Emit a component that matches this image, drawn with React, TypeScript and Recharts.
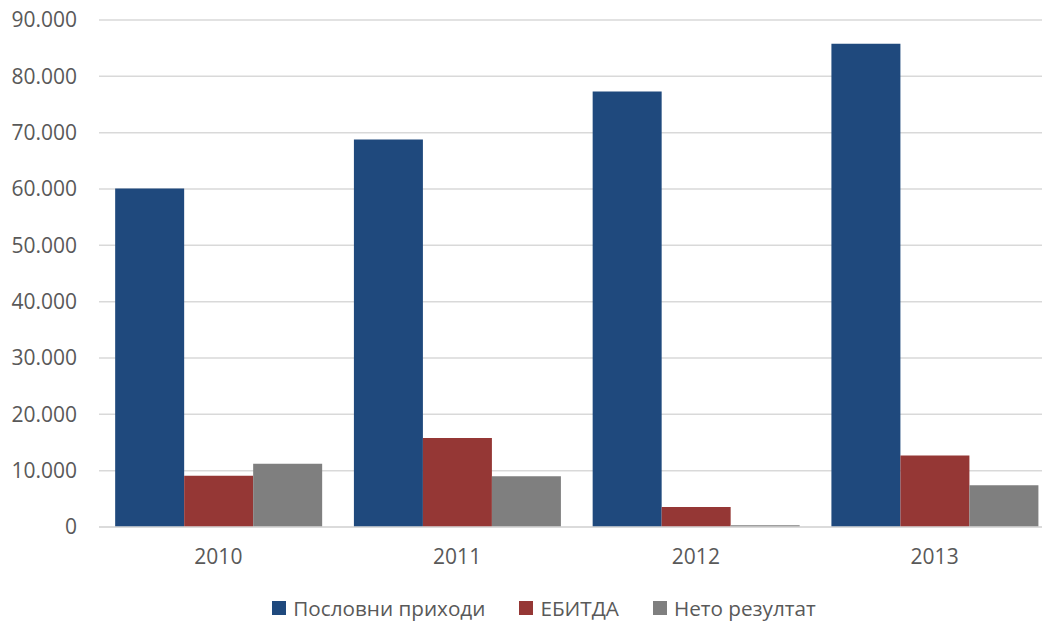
import React from 'react'
import { BarChart, Bar, XAxis, YAxis, CartesianGrid, Legend } from 'recharts'

const years = ['2010', '2011', '2012', '2013']
const prihodi = [60100, 68800, 77300, 85800]
const ebitda = [9100, 15800, 3550, 12700]
const neto = [11250, 9000, 300, 7400]
const yTicks = [0, 10000, 20000, 30000, 40000, 50000, 60000, 70000, 80000, 90000]

const SERIES = [
  { key: 'prihodi', name: 'Пословни приходи', color: '#1F497D' },
  { key: 'ebitda', name: 'ЕБИТДА', color: '#953735' },
  { key: 'neto', name: 'Нето резултат', color: '#7F7F7F' },
]

const data = years.map((year, i) => ({
  year,
  prihodi: prihodi[i],
  ebitda: ebitda[i],
  neto: neto[i],
}))

const FONT = '"Open Sans", "Noto Sans", sans-serif'
const TEXT = '#595959'

const fmt = (v: number) => v.toString().replace(/\B(?=(\d{3})+(?!\d))/g, '.')

// plot area runs a bit past the right edge of the picture, like the original
function LegendRow() {
  return (
    <div
      style={{
        display: 'flex',
        justifyContent: 'center',
        gap: 34,
        paddingLeft: 34,
        paddingTop: 9,
        fontFamily: FONT,
        fontSize: 20.7,
        color: TEXT,
      }}
    >
      {SERIES.map((s) => (
        <div key={s.key} style={{ display: 'flex', alignItems: 'center' }}>
          <span style={{ width: 14, height: 14, background: s.color, marginRight: 7, display: 'inline-block' }} />
          <span>{s.name}</span>
        </div>
      ))}
    </div>
  )
}

export default function App() {
  return (
    <div style={{ position: 'fixed', left: 0, top: 0, width: 1042, height: 621, overflow: 'hidden', background: '#fff' }}>
      <BarChart
        width={1056}
        height={621}
        data={data}
        margin={{ top: 20, right: 2, bottom: 0, left: 0 }}
        barCategoryGap="6.77%"
        barGap={0}
      >
        <CartesianGrid vertical={false} stroke="#D9D9D9" strokeWidth={1.5} />
        <XAxis
          dataKey="year"
          axisLine={{ stroke: '#D9D9D9', strokeWidth: 1.5 }}
          tickLine={false}
          tickSize={0}
          tickMargin={22}
          height={58}
          tick={{ fill: TEXT, fontSize: 21, fontFamily: FONT }}
        />
        <YAxis
          domain={[0, 90000]}
          ticks={yTicks}
          width={99}
          axisLine={false}
          tickLine={false}
          tickSize={0}
          tickMargin={22}
          tickFormatter={fmt}
          tick={{ fill: TEXT, fontSize: 21, fontFamily: FONT }}
        />
        <Legend verticalAlign="bottom" height={36} content={() => <LegendRow />} />
        {SERIES.map((s) => (
          <Bar key={s.key} dataKey={s.key} name={s.name} fill={s.color} isAnimationActive={false} />
        ))}
      </BarChart>
    </div>
  )
}
